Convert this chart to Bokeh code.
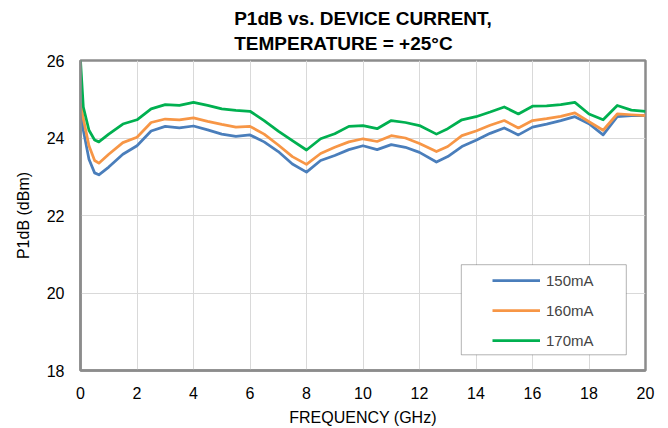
from bokeh.plotting import figure
from bokeh.models import Range1d, FixedTicker, Title, Legend, LegendItem, BoxAnnotation
from bokeh.embed import file_html
from bokeh.resources import INLINE

freq = [0, 0.1, 0.3, 0.5, 0.65, 1.0, 1.5, 2.0, 2.5, 3.0, 3.5, 4.0, 4.5, 5.0, 5.5, 6.0,
        6.5, 7.0, 7.5, 8.0, 8.5, 9.0, 9.5, 10.0, 10.5, 11.0, 11.5, 12.0, 12.6, 13.0,
        13.5, 14.0, 14.5, 15.0, 15.5, 16.0, 16.5, 17.0, 17.5, 18.0, 18.5, 19.0, 19.5, 20.0]
p150 = [24.7, 24.2, 23.45, 23.1, 23.05, 23.25, 23.58, 23.8, 24.18, 24.3, 24.26, 24.31, 24.21,
        24.1, 24.04, 24.08, 23.9, 23.65, 23.33, 23.12, 23.42, 23.55, 23.7, 23.8, 23.7, 23.83,
        23.76, 23.63, 23.38, 23.52, 23.78, 23.94, 24.12, 24.26, 24.08, 24.28, 24.36, 24.45,
        24.55, 24.37, 24.08, 24.55, 24.58, 24.58]
p160 = [24.9, 24.5, 23.8, 23.42, 23.35, 23.58, 23.88, 24.02, 24.4, 24.49, 24.47, 24.52, 24.43,
        24.35, 24.28, 24.3, 24.1, 23.82, 23.52, 23.32, 23.6, 23.76, 23.9, 23.98, 23.91, 24.06,
        24.0, 23.86, 23.65, 23.78, 24.06, 24.18, 24.33, 24.45, 24.26, 24.45, 24.5, 24.56,
        24.65, 24.42, 24.2, 24.62, 24.6, 24.58]
p170 = [26.0, 24.8, 24.2, 23.95, 23.9, 24.1, 24.36, 24.47, 24.75, 24.86, 24.84, 24.92, 24.84,
        24.75, 24.71, 24.69, 24.45, 24.18, 23.93, 23.69, 23.98, 24.11, 24.3, 24.32, 24.24, 24.45,
        24.4, 24.32, 24.1, 24.24, 24.47, 24.55, 24.67, 24.8, 24.62, 24.82, 24.83, 24.86,
        24.92, 24.62, 24.47, 24.84, 24.72, 24.69]
series_names = ["150mA", "160mA", "170mA"]
series_colors = ["#4a7ebb", "#f79646", "#00b050"]
x_ticks = [0, 2, 4, 6, 8, 10, 12, 14, 16, 18, 20]
y_ticks = [18, 20, 22, 24, 26]
title_lines = ["P1dB vs. DEVICE CURRENT,", "TEMPERATURE = +25°C"]

FONT = "Liberation Sans"

p = figure(width=668, height=428, output_backend="svg", toolbar_location=None,
           x_range=Range1d(0, 20), y_range=Range1d(18, 26),
           min_border_left=80, min_border_right=23, min_border_top=60, min_border_bottom=58)

p.add_layout(Title(text="\n".join(title_lines), align="center", vertical_align="middle",
                   text_font=FONT, standoff=10, text_font_size="19px", text_font_style="bold",
                   text_color="#000000", text_line_height=1.23), "above")

items = []
for ys, name, col in zip([p150, p160, p170], series_names, series_colors):
    r = p.line(freq, ys, line_color=col, line_width=2.75, line_join="round")
    items.append(LegendItem(label=name, renderers=[r]))

p.xaxis.ticker = FixedTicker(ticks=x_ticks)
p.yaxis.ticker = FixedTicker(ticks=y_ticks)
for ax in (p.xaxis[0], p.yaxis[0]):
    ax.axis_line_color = "#8c8c8c"
    ax.axis_line_width = 2.5
    ax.major_tick_line_color = None
    ax.minor_tick_line_color = None
    ax.major_label_text_font = FONT
    ax.major_label_text_font_size = "16px"
    ax.major_label_text_color = "#000000"
    ax.axis_label_text_font = FONT
    ax.axis_label_text_font_size = "16px"
    ax.axis_label_text_font_style = "normal"
    ax.axis_label_text_color = "#000000"
p.xaxis.axis_label = "FREQUENCY (GHz)"
p.yaxis.axis_label = "P1dB (dBm)"
p.yaxis.major_label_standoff = 10
p.xaxis.major_label_standoff = 10
p.yaxis.axis_label_standoff = 12
p.xaxis.axis_label_standoff = 7

p.xgrid.grid_line_color = "#d9d9d9"
p.ygrid.grid_line_color = "#d9d9d9"
p.outline_line_color = "#8c8c8c"
p.outline_line_width = 2.5
p.background_fill_color = "white"
p.border_fill_color = "white"

box = BoxAnnotation(left=13.48, right=19.32, bottom=18.405, top=20.73,
                    fill_color="white", fill_alpha=1.0, line_color="#000000", line_width=1)
p.add_layout(box)

legend = Legend(items=items, location=(412, 15), padding=0, spacing=0,
                glyph_width=48, glyph_height=30, label_height=30, label_standoff=6,
                label_text_font=FONT, label_text_font_size="15px",
                border_line_color=None, background_fill_alpha=0)
p.add_layout(legend)

open("out.html", "w").write(file_html(p, INLINE))
